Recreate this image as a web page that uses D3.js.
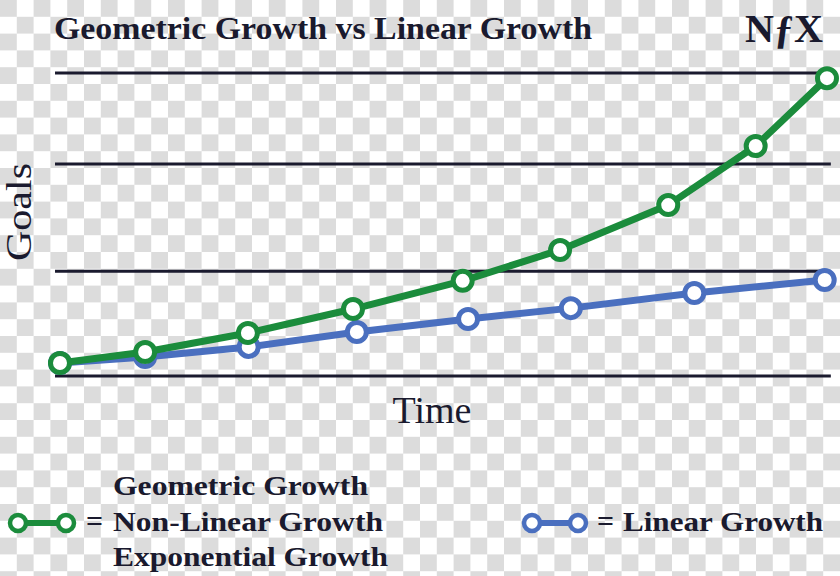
<!DOCTYPE html>
<html><head><meta charset="utf-8">
<script src="https://cdn.jsdelivr.net/npm/d3@7"></script>
<style>html,body{margin:0;padding:0;background:#fff}svg{display:block}</style>
</head><body>
<svg id="c" width="840" height="576"></svg>
<script>
// ---- data ----
const geometricX = [0, 11.1, 24.5, 38.2, 52.5, 65.2, 79.3, 90.7, 100];
const geometricY = [4.3, 7.9, 14.2, 22.1, 31.4, 41.6, 56.4, 75.9, 98.3];
const linearX = [0, 11.1, 24.6, 38.7, 53.2, 66.6, 82.7, 99.7];
const linearY = [4.3, 6.3, 9.6, 14.5, 18.8, 22.4, 27.4, 31.7];
const gridValues = [0, 34.6, 70, 100];
const titleText = "Geometric Growth vs Linear Growth";
const xLabel = "Time", yLabel = "Goals";
const legendGeometric = ["Geometric Growth", "Non-Linear Growth", "Exponential Growth"];
const legendLinear = "Linear Growth";

const W = 840, H = 576;
const svg = d3.select("#c");
const ink = "#1a1a2e", green = "#1b8c3c", blue = "#4a6fbf";
const serif = "'Liberation Serif','DejaVu Serif',serif";

// checkerboard background
const defs = svg.append("defs");
const sq = 16.8;
const pat = defs.append("pattern").attr("id","chk").attr("width",sq*2).attr("height",sq*2).attr("patternUnits","userSpaceOnUse");
pat.append("rect").attr("width",sq*2).attr("height",sq*2).attr("fill","#ffffff");
pat.append("rect").attr("x",0).attr("y",0).attr("width",sq).attr("height",sq).attr("fill","#dcdcdc");
pat.append("rect").attr("x",sq).attr("y",sq).attr("width",sq).attr("height",sq).attr("fill","#dcdcdc");
svg.append("rect").attr("width",W).attr("height",H).attr("fill","url(#chk)");

const x = d3.scaleLinear().domain([0,100]).range([60,827]);
const y = d3.scaleLinear().domain([0,100]).range([376,73]);

// gridlines
svg.append("g").selectAll("line").data(gridValues).join("line")
  .attr("x1", x(-0.65)).attr("x2", x(100.5))
  .attr("y1", d=>y(d)).attr("y2", d=>y(d))
  .attr("stroke", ink).attr("stroke-width", 3);

// title
svg.append("text").attr("x",54).attr("y",39).text(titleText)
  .attr("font-family",serif).attr("font-weight","bold").attr("font-size",31)
  .attr("fill",ink).attr("textLength",538).attr("lengthAdjust","spacingAndGlyphs");
// logo
svg.append("text").attr("x",745).attr("y",42).text("N\u0192X")
  .attr("font-family",serif).attr("font-weight","bold").attr("font-size",40)
  .attr("fill",ink).attr("textLength",78).attr("lengthAdjust","spacingAndGlyphs");

// axis labels
svg.append("text").attr("transform","translate(31,212) rotate(-90)").attr("text-anchor","middle")
  .text(yLabel).attr("font-family",serif).attr("font-size",36).attr("fill",ink)
  .attr("textLength",98).attr("lengthAdjust","spacingAndGlyphs");
svg.append("text").attr("x",432).attr("y",423).attr("text-anchor","middle")
  .text(xLabel).attr("font-family",serif).attr("font-size",37).attr("fill",ink)
  .attr("textLength",79).attr("lengthAdjust","spacingAndGlyphs");

const line = d3.line().x(d=>x(d[0])).y(d=>y(d[1]));
function series(xs, ys, color){
  const pts = xs.map((v,i)=>[v, ys[i]]);
  const g = svg.append("g");
  g.append("path").datum(pts).attr("d",line).attr("fill","none")
    .attr("stroke",color).attr("stroke-width",7).attr("stroke-linejoin","round");
  g.selectAll("circle").data(pts).join("circle")
    .attr("cx",d=>x(d[0])).attr("cy",d=>y(d[1])).attr("r",9.5)
    .attr("fill","#fff").attr("stroke",color).attr("stroke-width",5);
}
series(linearX, linearY, blue);
series(geometricX, geometricY, green);

// legend
function legendMark(x1, x2, yy, color){
  const g = svg.append("g");
  g.append("line").attr("x1",x1).attr("x2",x2).attr("y1",yy).attr("y2",yy)
    .attr("stroke",color).attr("stroke-width",6);
  g.selectAll("circle").data([x1,x2]).join("circle")
    .attr("cx",d=>d).attr("cy",yy).attr("r",8)
    .attr("fill","#fff").attr("stroke",color).attr("stroke-width",4.5);
}
legendMark(18, 66, 523, green);
legendMark(532, 578, 523, blue);

const legFont = (sel)=>sel.attr("font-family",serif).attr("font-weight","bold").attr("font-size",27).attr("fill",ink);
const legBase = [495, 531, 566];
const legW = [255, 270, 275];
legendGeometric.forEach((t,i)=>{
  svg.append("text").attr("x",113).attr("y",legBase[i]).text(t).call(legFont)
    .attr("textLength",legW[i]).attr("lengthAdjust","spacingAndGlyphs");
});
svg.append("text").attr("x",86).attr("y",531).text("=").call(legFont).attr("font-size",30);
svg.append("text").attr("x",597).attr("y",531).text("=").call(legFont).attr("font-size",30);
svg.append("text").attr("x",623).attr("y",531).text(legendLinear).call(legFont)
  .attr("textLength",200).attr("lengthAdjust","spacingAndGlyphs");
</script>
</body></html>
